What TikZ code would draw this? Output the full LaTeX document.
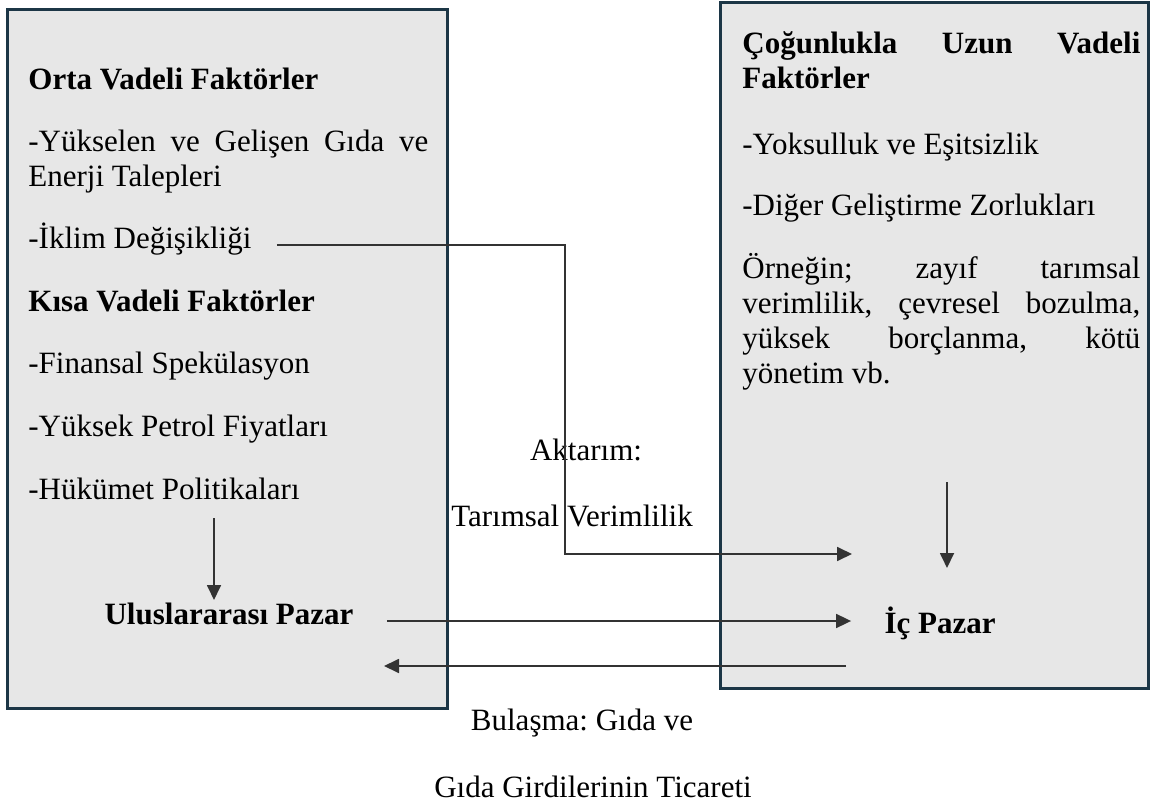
\documentclass[tikz,border=0pt]{standalone}
\usepackage{fontspec}
\setmainfont{Liberation Serif}
\usetikzlibrary{arrows.meta}
\definecolor{panelline}{HTML}{1C3646}
\definecolor{panelfill}{HTML}{E7E7E7}

\begin{document}
\frenchspacing
\begin{tikzpicture}
[x=0.5pt,y=-0.5pt,
 every node/.style={inner sep=0pt,font=\fontsize{15.5}{17.5}\selectfont},
 panel/.style={draw=panelline,line width=1.5pt,fill=panelfill,rectangle},
 item/.style={anchor=base west},
 head/.style={anchor=base west,font=\fontsize{15.5}{17.5}\selectfont\bfseries},
 market/.style={anchor=base,font=\fontsize{15.5}{17.5}\selectfont\bfseries},
 para/.style={text width=199pt,align=justify},
 link/.style={draw=black!80,line width=0.9pt,-{Triangle[length=7.5pt,width=7pt]}}]
\path[use as bounding box,fill=white] (0,0) rectangle (1155,806);

% the two panels
\node[panel,minimum width=220pt,minimum height=349pt] (midterm) at (227,359) {};
\node[panel,minimum width=214pt,minimum height=342.5pt] (longterm) at (934,345.5) {};

% left panel
\node[head] (orta) at (28,90) {Orta Vadeli Faktörler};
\node[item,para,text width=200pt] (talep) at (28,152) {-Yükselen ve Gelişen Gıda ve\linebreak Enerji Talepleri};
\node[item] (iklim) at (28,249) {-İklim Değişikliği};
\node[head] (kisa) at (28,312) {Kısa Vadeli Faktörler};
\node[item] (finans) at (28,374) {-Finansal Spekülasyon};
\node[item] (petrol) at (28,437) {-Yüksek Petrol Fiyatları};
\node[item] (hukumet) at (28,499) {-Hükümet Politikaları};
\node[market] (intl) at (229,624) {Uluslararası Pazar};

% right panel
\node[head,para] (uzun) at (742,54) {Çoğunlukla Uzun Vadeli\linebreak Faktörler};
\node[item] (yoksul) at (742,155) {-Yoksulluk ve Eşitsizlik};
\node[item] (diger) at (742,216) {-Diğer Geliştirme Zorlukları};
\node[item,para] (ornek) at (742,279) {Örneğin; zayıf tarımsal\linebreak verimlilik, çevresel bozulma,\linebreak yüksek borçlanma, kötü\linebreak yönetim vb.};
\node[market] (ic) at (940,633) {İç Pazar};

% labels between the panels
\node[anchor=base] (aktarim) at (586,460) {Aktarım:};
\node[anchor=base] (verim) at (572,526) {Tarımsal Verimlilik};
\node[anchor=base] (bulasma) at (582,730) {Bulaşma: Gıda ve};
\node[anchor=base] (ticaret) at (593,797) {Gıda Girdilerinin Ticareti};

% arrows
\coordinate (turn) at (565,554);
\coordinate (in1) at (852,554);
\coordinate (drop1) at (214,518);
\coordinate (drop1end) at (214,600);
\coordinate (drop2) at (947,482);
\coordinate (drop2end) at (947,568);
\coordinate (back) at (846,666);
\coordinate (backend) at (384,666);
\draw[link,shorten <=12.5pt] ([yshift=2pt]iklim.base east) -| (turn) -- (in1);
\draw[link,shorten <=16.5pt,shorten >=16.5pt] ([yshift=1.5pt]intl.base east) -- ([yshift=1.5pt]intl.base east -| ic.west);
\foreach \from/\to in {drop1/drop1end,drop2/drop2end,back/backend}
\draw[link] (\from) -- (\to);
\end{tikzpicture}
\end{document}
